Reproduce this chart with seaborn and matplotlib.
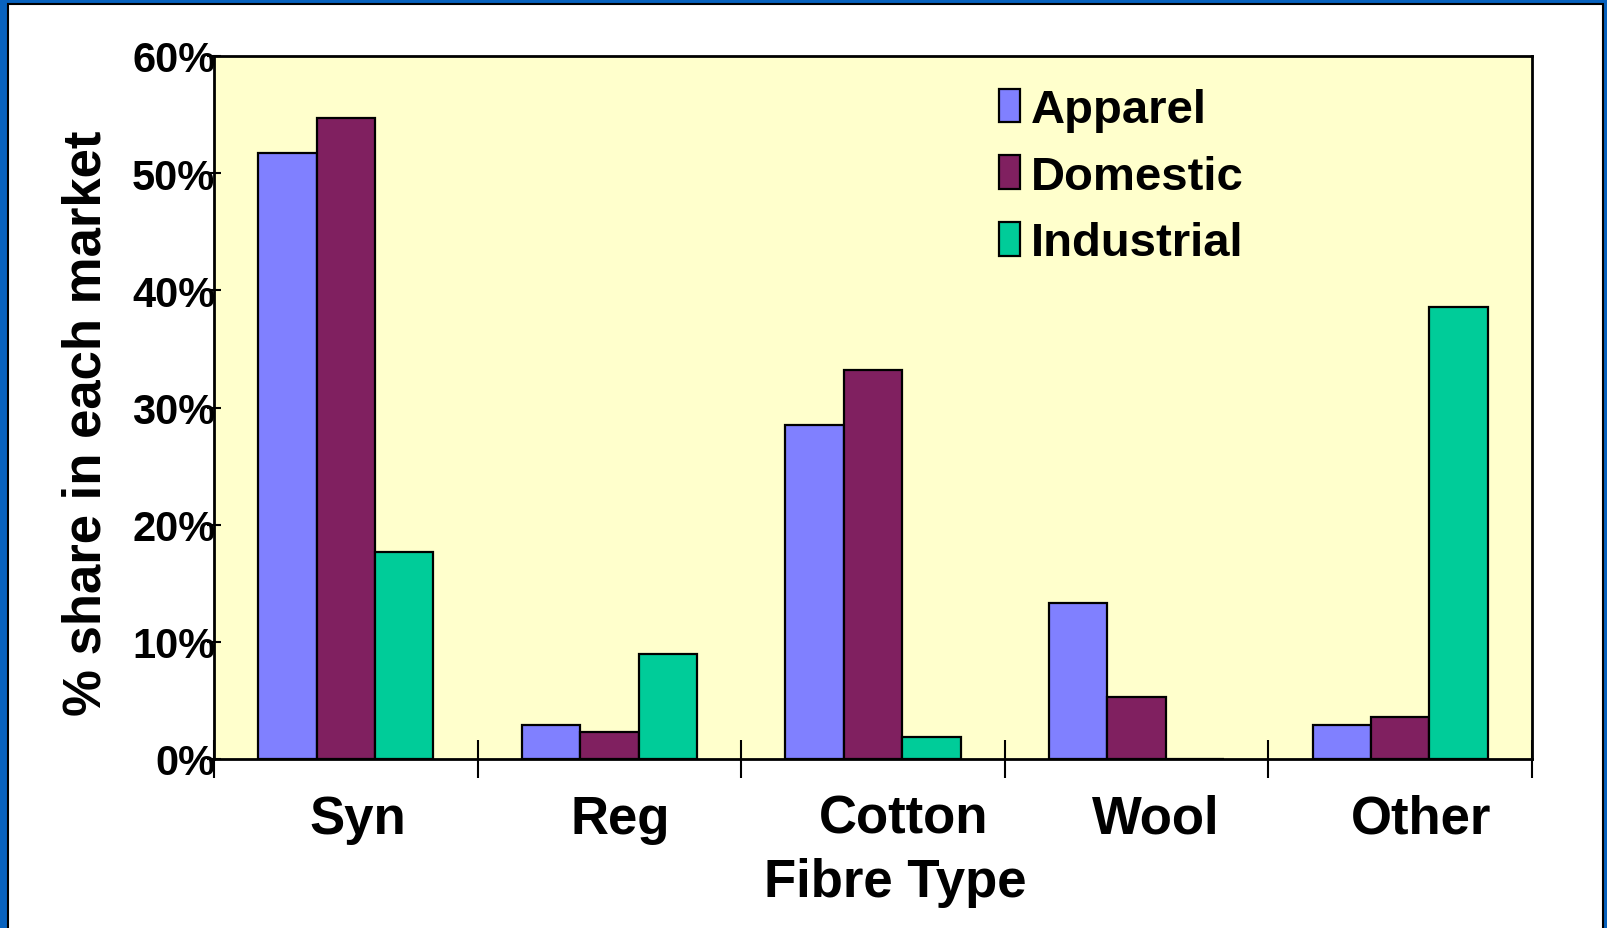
import matplotlib
matplotlib.use("Agg")
import matplotlib.pyplot as plt
import matplotlib.transforms as mtransforms
from matplotlib.patches import Rectangle
import seaborn as sns
import pandas as pd

categories = ["Syn", "Reg", "Cotton", "Wool", "Other"]
series = ["Apparel", "Domestic", "Industrial"]
apparel = [51.7, 2.9, 28.5, 13.3, 2.9]
domestic = [54.7, 2.3, 33.2, 5.3, 3.6]
industrial = [17.7, 9.0, 1.9, 0.0, 38.6]
yticks = [0, 10, 20, 30, 40, 50, 60]
ytick_labels = ["0%", "10%", "20%", "30%", "40%", "50%", "60%"]
colors = ["#8080FF", "#802060", "#00CC99"]

rows = []
for s, vals in zip(series, [apparel, domestic, industrial]):
    for c, v in zip(categories, vals):
        rows.append({"Fibre": c, "Market": s, "Share": v})
df = pd.DataFrame(rows)

sns.set_theme(style="white")
plt.rcParams["font.family"] = ["Liberation Sans", "DejaVu Sans"]
plt.rcParams["font.weight"] = "bold"
plt.rcParams["text.color"] = "black"
plt.rcParams["axes.labelcolor"] = "black"
plt.rcParams["xtick.color"] = "black"
plt.rcParams["ytick.color"] = "black"

fig = plt.figure(figsize=(16.08, 9.29), dpi=100)
W, H = 1608, 929
# frame: blue border with white inner panel
fig.patches.append(Rectangle((0, 0), 1, 1, transform=fig.transFigure,
                             facecolor="#0862BE", edgecolor="none", zorder=-10))
fig.patches.append(Rectangle((8 / W, -0.01), (1603 - 8) / W, 1 - 5 / H + 0.01,
                             transform=fig.transFigure, facecolor="white",
                             edgecolor="black", linewidth=1.5, zorder=-9))

ax = fig.add_axes([214 / W, 1 - 760 / H, (1532 - 214) / W, (760 - 57) / H])
ax.set_facecolor("#FFFFCC")

sns.barplot(data=df, x="Fibre", y="Share", hue="Market", order=categories,
            hue_order=series, palette=colors, width=0.665, saturation=1,
            edgecolor="black", linewidth=1.6, ax=ax, legend=True)

ax.set_xlim(-0.5, 4.5)
ax.set_ylim(0, 60)
ax.set_yticks(yticks)
ax.set_yticklabels(ytick_labels, fontsize=30, fontweight="bold")
ax.tick_params(axis="y", direction="inout", length=10, width=1.5, pad=-6,
               left=True, colors="black")

# category boundary ticks, labels at centers (minor)
ax.set_xticks([-0.5, 0.5, 1.5, 2.5, 3.5, 4.5])
ax.set_xticklabels([""] * 6)
ax.set_xticks([0, 1, 2, 3, 4], minor=True)
ax.set_xticklabels(categories, minor=True, fontsize=38, fontweight="bold")
ax.tick_params(axis="x", which="major", direction="inout", length=28, width=1.5,
               bottom=True, colors="black")
ax.tick_params(axis="x", which="minor", length=0, pad=25, bottom=True)
label_shift_px = [12, 11, 31, 19, 21]
for lab, dx in zip(ax.get_xticklabels(minor=True), label_shift_px):
    lab.set_transform(lab.get_transform() +
                      mtransforms.ScaledTranslation(dx / 100, 0, fig.dpi_scale_trans))

for sp in ax.spines.values():
    sp.set_visible(True)
    sp.set_color("black")
    sp.set_linewidth(2)

ax.set_xlabel("Fibre Type", fontsize=38, fontweight="bold")
ax.xaxis.set_label_coords((895 - 214) / 1318, -0.139)
ax.set_ylabel("% share in each market", fontsize=38, fontweight="bold")
ax.yaxis.set_label_coords(-(214 - 112) / 1318, (760 - 423) / 703)

leg = ax.legend(loc="upper left", bbox_to_anchor=((999 - 214) / 1318, 1 - (89 - 57) / 703),
                frameon=False, handlelength=0.45, handleheight=0.72,
                handletextpad=0.22, labelspacing=0.48, borderpad=0, borderaxespad=0,
                prop={"weight": "bold", "size": 34})
for h in leg.legend_handles:
    h.set_edgecolor("black")
    h.set_linewidth(1.6)

fig.savefig("out.png", dpi=100)
